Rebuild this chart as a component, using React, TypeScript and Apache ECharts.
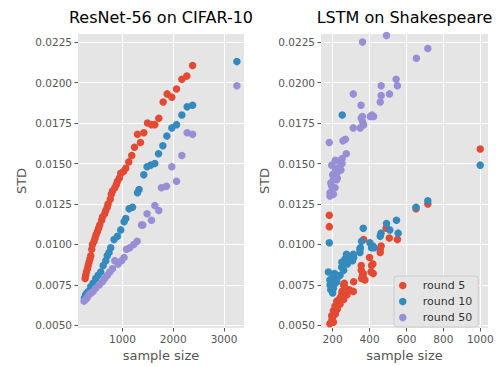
import React, { useEffect, useRef } from "react";
import * as echarts from "echarts";

const titles = ["ResNet-56 on CIFAR-10", "LSTM on Shakespeare"];
const seriesNames = ["round 5", "round 10", "round 50"];
const colors = ["#E24A33", "#348ABD", "#988ED5"];

const yTicks = [0.005, 0.0075, 0.01, 0.0125, 0.015, 0.0175, 0.02, 0.0225];
const leftXTicks = [1000, 2000, 3000];
const rightXTicks = [200, 400, 600, 800, 1000];

// ResNet-56 on CIFAR-10
const leftRound5: number[][] = [
  [2381, 0.02105], [2268, 0.0204], [2170, 0.0202], [2065, 0.0196], [1972, 0.0191], [1880, 0.0193],
  [1801, 0.0188], [1716, 0.0178], [1637, 0.0174], [1572, 0.0174], [1493, 0.0175], [1420, 0.0169],
  [1355, 0.0163], [1296, 0.0168], [1237, 0.016], [1183, 0.0155], [1124, 0.0151], [1065, 0.0147],
  [1020, 0.0145], [966, 0.0144], [940, 0.0141], [901, 0.0139], [880, 0.0137], [850, 0.0135],
  [803, 0.0133], [780, 0.0131], [760, 0.0128], [716, 0.0125], [700, 0.0123], [671, 0.0121],
  [650, 0.0119], [606, 0.0117], [590, 0.0115], [552, 0.0112], [530, 0.011], [507, 0.0108],
  [480, 0.0106], [460, 0.0104], [440, 0.0102], [408, 0.01], [395, 0.0097], [375, 0.0093],
  [360, 0.0091], [341, 0.0089], [325, 0.0087], [310, 0.0085], [290, 0.0083], [276, 0.0081],
  [265, 0.0079],
];
const leftRound10: number[][] = [
  [3254, 0.0213], [2381, 0.0186], [2274, 0.0185], [2170, 0.018], [2065, 0.0174], [1972, 0.0172],
  [1874, 0.0167], [1795, 0.0161], [1710, 0.0156], [1637, 0.015], [1552, 0.0149], [1485, 0.0148],
  [1420, 0.0143], [1327, 0.0134], [1296, 0.0132], [1197, 0.0123], [1130, 0.0122], [1065, 0.0116],
  [1032, 0.0114], [966, 0.0109], [901, 0.0105], [834, 0.0103], [769, 0.0098], [736, 0.0095],
  [700, 0.0093], [671, 0.009], [620, 0.0087], [572, 0.0083], [520, 0.0081], [473, 0.0079],
  [420, 0.0076], [375, 0.0074], [330, 0.0071], [300, 0.007], [276, 0.0069], [250, 0.0067],
];
const leftRound50: number[][] = [
  [3254, 0.0198], [2381, 0.0168], [2274, 0.0169], [2170, 0.0155], [1972, 0.0148], [2065, 0.0139],
  [1866, 0.0136], [1767, 0.0135], [1716, 0.0121], [1637, 0.0124], [1572, 0.0115], [1485, 0.0119],
  [1400, 0.0112], [1375, 0.0112], [1290, 0.0102], [1223, 0.01], [1144, 0.0098], [1079, 0.0097],
  [1032, 0.0092], [980, 0.009], [913, 0.0088], [848, 0.009], [803, 0.0085], [750, 0.0083],
  [704, 0.0081], [650, 0.0079], [606, 0.0077], [540, 0.0075], [473, 0.0073], [420, 0.0071],
  [380, 0.007], [341, 0.0069], [300, 0.0067], [270, 0.0066], [243, 0.0065],
];

// LSTM on Shakespeare
const rightRound5: number[][] = [
  [1000, 0.0159], [716, 0.0125], [652, 0.0122], [182, 0.0118], [182, 0.0111], [551, 0.0103],
  [507, 0.0104], [490, 0.011], [463, 0.0099], [458, 0.0097], [458, 0.0095], [368, 0.0103],
  [400, 0.0092], [418, 0.0088], [408, 0.0083], [420, 0.0082], [411, 0.0087], [366, 0.0082],
  [355, 0.0087], [355, 0.0084], [362, 0.0081], [368, 0.0079], [357, 0.0079], [375, 0.0078],
  [314, 0.0077], [259, 0.0075], [263, 0.0076], [312, 0.0071], [278, 0.0069], [251, 0.0071],
  [249, 0.0069], [240, 0.0067], [222, 0.0065], [213, 0.0062], [204, 0.0059], [195, 0.0056],
  [195, 0.0053], [204, 0.0052], [185, 0.0051], [230, 0.0064], [225, 0.006], [215, 0.0057],
  [200, 0.0055], [240, 0.0063], [260, 0.0066], [290, 0.0072], [270, 0.0073],
];
const rightRound10: number[][] = [
  [1000, 0.0149], [716, 0.0127], [652, 0.0123], [252, 0.018], [182, 0.0101], [546, 0.0115],
  [492, 0.0113], [510, 0.0109], [555, 0.0107], [462, 0.0107], [458, 0.0105], [366, 0.011],
  [402, 0.0101], [411, 0.0098], [418, 0.0099], [425, 0.0098], [357, 0.0102], [350, 0.0098],
  [348, 0.0097], [314, 0.0092], [308, 0.009], [267, 0.0091], [249, 0.0086], [240, 0.0081],
  [222, 0.0077], [204, 0.0073], [186, 0.0075], [195, 0.0079], [177, 0.0083], [312, 0.0094],
  [348, 0.0095], [280, 0.0088], [260, 0.0084], [230, 0.008], [215, 0.0076], [190, 0.0072],
  [200, 0.007], [210, 0.0082], [185, 0.0078], [250, 0.0089], [275, 0.0094], [290, 0.0091],
];
const rightRound50: number[][] = [
  [492, 0.0229], [362, 0.0225], [716, 0.0221], [654, 0.0215], [544, 0.0202], [551, 0.0198],
  [463, 0.0198], [312, 0.0193], [508, 0.0193], [463, 0.0192], [458, 0.0188], [354, 0.0186],
  [413, 0.018], [404, 0.0179], [422, 0.0179], [361, 0.0179], [355, 0.0178], [362, 0.0176],
  [368, 0.0174], [350, 0.0172], [312, 0.0172], [256, 0.0164], [269, 0.0165], [182, 0.0163],
  [274, 0.0156], [251, 0.0153], [215, 0.0152], [242, 0.015], [251, 0.015], [195, 0.0149],
  [215, 0.0147], [230, 0.0145], [245, 0.0146], [204, 0.014], [222, 0.014], [195, 0.0136],
  [213, 0.0135], [186, 0.0132], [204, 0.0131], [186, 0.013], [200, 0.0143], [210, 0.0144],
  [225, 0.0141], [190, 0.0138],
];

const leftData = [leftRound5, leftRound10, leftRound50];
const rightData = [rightRound5, rightRound10, rightRound50];

const FONT = "DejaVu Sans";

function makeXAxis(gridIndex: number, min: number, max: number, ticks: number[]) {
  return {
    type: "value",
    gridIndex,
    min,
    max,
    name: "sample size",
    nameLocation: "middle",
    nameGap: 21,
    nameTextStyle: { color: "#555555", fontSize: 13, fontFamily: FONT },
    axisLine: { show: false },
    axisTick: { show: true, inside: false, length: 3.5, customValues: ticks, lineStyle: { color: "#555555", width: 1 } },
    axisLabel: {
      customValues: ticks,
      margin: 5,
      color: "#555555",
      fontSize: 10.5,
      fontFamily: FONT,
      formatter: (v: number) => String(v),
    },
    splitLine: { show: true, lineStyle: { color: "#ffffff", width: 1 } },
  };
}

function makeYAxis(gridIndex: number) {
  return {
    type: "value",
    gridIndex,
    min: 0.00484,
    max: 0.023,
    name: "STD",
    nameLocation: "middle",
    nameGap: 50,
    nameTextStyle: { color: "#555555", fontSize: 13, fontFamily: FONT },
    axisLine: { show: false },
    axisTick: { show: true, inside: false, length: 3.5, customValues: yTicks, lineStyle: { color: "#555555", width: 1 } },
    axisLabel: {
      customValues: yTicks,
      margin: 6,
      color: "#555555",
      fontSize: 10.5,
      fontFamily: FONT,
      formatter: (v: number) => v.toFixed(4),
    },
    splitLine: { show: true, lineStyle: { color: "#ffffff", width: 1 } },
  };
}

export default function App() {
  const ref = useRef<HTMLDivElement>(null);
  useEffect(() => {
    if (!ref.current) return;
    const chart = echarts.init(ref.current, null, { renderer: "svg" });
    const series: any[] = [];
    leftData.forEach((d, i) => {
      series.push({
        type: "scatter",
        name: seriesNames[i],
        xAxisIndex: 0,
        yAxisIndex: 0,
        data: d,
        symbol: "circle",
        symbolSize: 7.5,
        itemStyle: { color: colors[i], opacity: 1 },
        z: 2 + i,
      });
    });
    rightData.forEach((d, i) => {
      series.push({
        type: "scatter",
        name: seriesNames[i],
        xAxisIndex: 1,
        yAxisIndex: 1,
        data: d,
        symbol: "circle",
        symbolSize: 7.5,
        itemStyle: { color: colors[i], opacity: 1 },
        z: 2 + i,
      });
    });
    chart.setOption({
      animation: false,
      backgroundColor: "#ffffff",
      textStyle: { fontFamily: FONT },
      title: [
        { text: titles[0], left: 161, top: 9, textAlign: "center", padding: 0, textStyle: { fontSize: 16, fontWeight: "normal", color: "#000000", fontFamily: FONT } },
        { text: titles[1], left: 404.5, top: 9, textAlign: "center", padding: 0, textStyle: { fontSize: 16, fontWeight: "normal", color: "#000000", fontFamily: FONT } },
      ],
      grid: [
        { left: 78, top: 34, width: 166, height: 298, show: true, backgroundColor: "#E5E5E5", borderWidth: 0 },
        { left: 321, top: 34, width: 167, height: 298, show: true, backgroundColor: "#E5E5E5", borderWidth: 0 },
      ],
      xAxis: [makeXAxis(0, 124, 3394, leftXTicks), makeXAxis(1, 137, 1042, rightXTicks)],
      yAxis: [makeYAxis(0), makeYAxis(1)],
      legend: {
        data: seriesNames,
        orient: "vertical",
        left: 394,
        top: 276,
        padding: [3, 6, 3, 5],
        itemGap: 3,
        itemWidth: 20,
        itemHeight: 7.5,
        icon: "circle",
        backgroundColor: "#E5E5E5",
        borderColor: "#CCCCCC",
        borderWidth: 1,
        borderRadius: 3,
        textStyle: { fontSize: 11, lineHeight: 13, color: "#333333", fontFamily: FONT, padding: [0, 0, 0, 5] },
      },
      series,
    });
    return () => chart.dispose();
  }, []);
  return <div ref={ref} style={{ position: "absolute", left: 0, top: 0, width: 497, height: 367 }} />;
}
